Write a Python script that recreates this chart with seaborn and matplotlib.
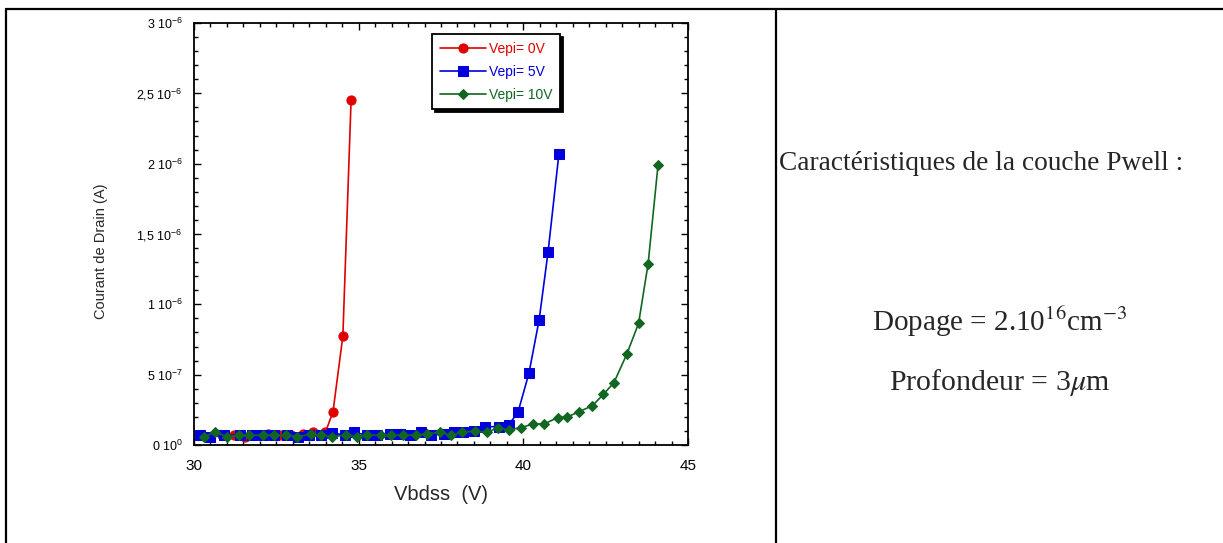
import numpy as np
import pandas as pd
import matplotlib
matplotlib.use("Agg")
import matplotlib.pyplot as plt
from matplotlib.lines import Line2D
from matplotlib.ticker import MultipleLocator, FixedLocator
import seaborn as sns

# Donnees (Vbdss en V, courant en 1e-6 A)
vbdss_0v = [30.15, 30.5, 30.85, 31.2, 31.55, 31.9, 32.25, 32.6, 32.95, 33.3,
            33.62, 33.99, 34.22, 34.52, 34.77]
courant_0v = [0.07, 0.06, 0.07, 0.07, 0.06, 0.07, 0.08, 0.07, 0.07, 0.08,
              0.095, 0.09, 0.235, 0.775, 2.45]

vbdss_5v = [30.18, 30.5, 30.9, 31.4, 31.75, 32.1, 32.44, 32.83, 33.17, 33.5,
            33.85, 34.2, 34.58, 34.87, 35.24, 35.55, 35.95, 36.26, 36.56, 36.9,
            37.2, 37.6, 37.9, 38.18, 38.5, 38.84, 39.27, 39.55, 39.84, 40.17,
            40.48, 40.75, 41.08]
courant_5v = [0.07, 0.06, 0.07, 0.07, 0.07, 0.07, 0.07, 0.07, 0.06, 0.07,
              0.07, 0.087, 0.07, 0.09, 0.07, 0.07, 0.08, 0.08, 0.07, 0.09,
              0.07, 0.08, 0.09, 0.09, 0.10, 0.13, 0.13, 0.14, 0.235, 0.51,
              0.89, 1.37, 2.07]

vbdss_10v = [30.3, 30.64, 31.01, 31.37, 31.68, 32.08, 32.44, 32.8, 33.12, 33.55,
             33.87, 34.2, 34.62, 34.94, 35.24, 35.67, 35.98, 36.34, 36.74, 37.07,
             37.47, 37.8, 38.15, 38.53, 38.89, 39.24, 39.55, 39.92, 40.3, 40.64,
             41.04, 41.34, 41.7, 42.1, 42.43, 42.75, 43.14, 43.5, 43.79, 44.09]
courant_10v = [0.06, 0.09, 0.06, 0.07, 0.07, 0.07, 0.07, 0.07, 0.06, 0.075,
               0.07, 0.06, 0.07, 0.06, 0.07, 0.07, 0.07, 0.07, 0.07, 0.08,
               0.09, 0.07, 0.09, 0.10, 0.09, 0.123, 0.107, 0.123, 0.15, 0.15,
               0.195, 0.2, 0.237, 0.28, 0.36, 0.443, 0.645, 0.865, 1.29, 1.99]

y_ticks = [0, 0.5e-6, 1e-6, 1.5e-6, 2e-6, 2.5e-6, 3e-6]
y_labels = [r"0 10$^{0}$", r"5 10$^{-7}$", r"1 10$^{-6}$", r"1,5 10$^{-6}$",
            r"2 10$^{-6}$", r"2,5 10$^{-6}$", r"3 10$^{-6}$"]

sns.set_theme(style="ticks")
plt.rcParams['font.family'] = ['Liberation Sans', 'DejaVu Sans']
plt.rcParams['mathtext.fontset'] = 'custom'
plt.rcParams['mathtext.rm'] = 'Liberation Sans'
plt.rcParams['mathtext.it'] = 'Liberation Sans:italic'

fig = plt.figure(figsize=(12.23, 5.43), dpi=100)
ax = fig.add_axes([194 / 1223, 98 / 543, 494 / 1223, 422 / 543])

series = [
    ("Vepi= 0V", vbdss_0v, courant_0v, "#e00000", "o", 6.6),
    ("Vepi= 5V", vbdss_5v, courant_5v, "#0000dd", "s", 6.8),
    ("Vepi= 10V", vbdss_10v, courant_10v, "#116622", "D", 5.0),
]
for nom, xs, ys, couleur, marq, taille in series:
    df = pd.DataFrame({"V": xs, "I": np.array(ys) * 1e-6})
    sns.lineplot(data=df, x="V", y="I", ax=ax, color=couleur, marker=marq,
                 markersize=taille, markeredgecolor=couleur, linewidth=1.2,
                 label=nom)

ax.set_xlim(30, 45)
ax.set_ylim(0, 3e-6)
ax.xaxis.set_major_locator(MultipleLocator(5))
ax.xaxis.set_minor_locator(MultipleLocator(0.5))
ax.yaxis.set_major_locator(FixedLocator(y_ticks))
ax.yaxis.set_minor_locator(MultipleLocator(0.1e-6))
ax.set_yticklabels(y_labels)
ax.tick_params(axis='both', which='both', direction='in', top=True, right=True,
               colors='black')
ax.tick_params(axis='both', which='major', length=5, width=1)
ax.tick_params(axis='both', which='minor', length=3, width=1)
ax.tick_params(axis='x', labelsize=11, pad=10)
ax.tick_params(axis='y', labelsize=9, pad=8)
for sp in ax.spines.values():
    sp.set_linewidth(1.3)
    sp.set_color('black')
ax.set_xlabel("Vbdss  (V)", fontsize=14.5, labelpad=9)
ax.set_ylabel("Courant de Drain (A)", fontsize=10.5)
ax.yaxis.set_label_coords(-0.175, 0.46)

leg = ax.legend(loc='upper left', bbox_to_anchor=(0.482, 0.974), fontsize=10,
                borderaxespad=0, frameon=True, fancybox=False,
                handlelength=3.3, handletextpad=0.25, borderpad=0.55,
                labelspacing=0.65, shadow={'color': 'black', 'alpha': 1})
leg.get_frame().set_edgecolor('black')
leg.get_frame().set_linewidth(1.3)
for txt, (_, _, _, couleur, _, _) in zip(leg.get_texts(), series):
    txt.set_color(couleur)

# cadre du tableau
H = 543
W = 1223
fig.add_artist(Line2D([5.5 / W, 1], [1 - 8.5 / H, 1 - 8.5 / H], color='black', lw=1.6))
fig.add_artist(Line2D([5.5 / W, 5.5 / W], [0, 1 - 8.5 / H], color='black', lw=1.6))
fig.add_artist(Line2D([776 / W, 776 / W], [0, 1 - 8.5 / H], color='black', lw=1.6))

# texte de droite
serif = ['Liberation Serif', 'DejaVu Serif']
fig.text(779 / W, 1 - 164 / H, "Caractéristiques de la couche Pwell :",
         family=serif, fontsize=19.7, va='center', ha='left')
t1 = fig.text(1000 / W, 1 - 322 / H, r"Dopage = 2.10$^{16}$cm$^{-3}$",
              family=serif, fontsize=21, va='center', ha='center')
t1.set_math_fontfamily('stix')
t2 = fig.text(1000 / W, 1 - 382 / H, r"Profondeur = 3$\mu$m",
              family=serif, fontsize=21.5, va='center', ha='center')
t2.set_math_fontfamily('stix')

fig.savefig("out.png", dpi=100)
